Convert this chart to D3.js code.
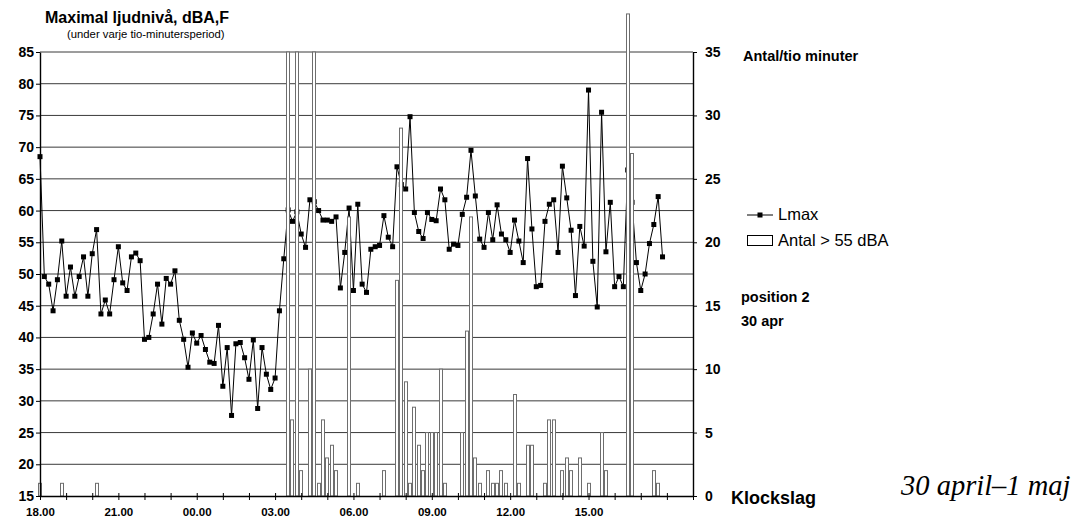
<!DOCTYPE html>
<html>
<head>
<meta charset="utf-8">
<script src="https://cdn.jsdelivr.net/npm/d3@7"></script>
<style>
  html, body { margin: 0; padding: 0; background: #fff; }
  svg { display: block; font-family: Arial, "Liberation Sans", sans-serif; }
</style>
</head>
<body>
<div id="chart"></div>
<script>
// Lmax per tio-minutersperiod, start 18.00 (30 apr)
const lmax = [
  68.5, 49.6, 48.4, 44.2, 49.1, 55.2, 46.5, 51.1, 46.5, 49.6, 52.7, 46.5,
  53.2, 57.0, 43.7, 45.9, 43.7, 49.1, 54.3, 48.6, 47.4, 52.7, 53.3, 52.1,
  39.7, 40.0, 43.7, 48.4, 42.1, 49.3, 48.4, 50.5, 42.7, 39.7, 35.3, 40.7,
  39.1, 40.3, 38.1, 36.1, 35.9, 41.9, 32.3, 38.4, 27.7, 39.0, 39.2, 36.8,
  33.4, 39.6, 28.8, 38.4, 34.2, 31.8, 33.6, 44.2, 52.4, 60.1, 58.3, 59.8,
  56.3, 54.2, 61.7, 61.4, 60.0, 58.5, 58.5, 58.3, 59.0, 47.8, 53.4, 60.4,
  47.4, 61.0, 48.4, 47.1, 53.9, 54.3, 54.5, 59.2, 55.8, 54.3, 66.9, 64.1,
  63.4, 74.8, 59.7, 56.7, 55.6, 59.7, 58.6, 58.4, 63.4, 61.7, 53.9, 54.7,
  54.5, 59.4, 62.1, 69.5, 62.3, 55.5, 54.2, 59.7, 55.4, 60.9, 56.3, 55.4,
  53.4, 58.5, 55.2, 51.8, 68.2, 57.1, 48.0, 48.2, 58.3, 61.0, 61.7, 53.4,
  67.0, 62.0, 56.9, 46.6, 57.5, 54.4, 79.0, 52.0, 44.8, 75.5, 53.5, 61.3,
  48.0, 49.6, 48.0, 66.4, 61.3, 51.8, 47.4, 50.0, 54.8, 57.8, 62.2, 52.7
];

// Antal > 55 dBA per tio-minutersperiod
const antal = [
  1, 0, 0, 0, 0, 1, 0, 0, 0, 0, 0, 0,
  0, 1, 0, 0, 0, 0, 0, 0, 0, 0, 0, 0,
  0, 0, 0, 0, 0, 0, 0, 0, 0, 0, 0, 0,
  0, 0, 0, 0, 0, 0, 0, 0, 0, 0, 0, 0,
  0, 0, 0, 0, 0, 0, 0, 0, 0, 35, 6, 35,
  2, 0, 10, 35, 1, 6, 3, 4, 2, 0, 0, 22,
  0, 1, 0, 0, 0, 0, 0, 2, 0, 0, 17, 29,
  9, 1, 7, 4, 2, 5, 5, 5, 10, 1, 0, 0,
  0, 5, 13, 22, 3, 1, 0, 2, 1, 1, 2, 1,
  0, 8, 1, 0, 4, 4, 0, 0, 1, 6, 6, 0,
  2, 3, 2, 0, 3, 0, 1, 0, 0, 5, 2, 0,
  0, 0, 0, 38, 27, 0, 0, 0, 0, 2, 1, 0
];

const hourLabels = ['18.00', '21.00', '00.00', '03.00', '06.00', '09.00', '12.00', '15.00'];
const leftTicks = [15, 20, 25, 30, 35, 40, 45, 50, 55, 60, 65, 70, 75, 80, 85];
const rightTicks = [0, 5, 10, 15, 20, 25, 30, 35];

const width = 1085;
const height = 519;

const svg = d3.select('#chart')
  .append('svg')
  .attr('width', width)
  .attr('height', height);

// 25 timmar = 150 perioder
const x = d3.scaleLinear().domain([0, 150]).range([40, 693]);
const yL = d3.scaleLinear().domain([15, 85]).range([496, 52]);
const yR = d3.scaleLinear().domain([0, 35]).range([496, 52]);

// Gridlines
svg.append('g')
  .selectAll('line')
  .data(leftTicks.filter(d => d > 15))
  .join('line')
  .attr('x1', x(0))
  .attr('x2', x(150))
  .attr('y1', d => yL(d))
  .attr('y2', d => yL(d))
  .attr('stroke', '#3a3a3a')
  .attr('stroke-width', 1);

// Lmax line
const line = d3.line()
  .x((d, i) => x(i))
  .y(d => yL(d));

svg.append('path')
  .datum(lmax)
  .attr('d', line)
  .attr('fill', 'none')
  .attr('stroke', '#000')
  .attr('stroke-width', 1);

svg.append('g')
  .selectAll('rect')
  .data(lmax)
  .join('rect')
  .attr('x', (d, i) => x(i) - 2.5)
  .attr('y', d => yL(d) - 2.5)
  .attr('width', 5)
  .attr('height', 5)
  .attr('fill', '#000');

// Bars (drawn over the line, as in the original)
svg.append('g')
  .selectAll('rect')
  .data(antal.map((v, i) => ({ i, v })).filter(d => d.v > 0))
  .join('rect')
  .attr('x', d => Math.round(x(d.i)) - 1.5)
  .attr('y', d => yR(d.v))
  .attr('width', 3)
  .attr('height', d => yR(0) - yR(d.v))
  .attr('fill', '#fff')
  .attr('stroke', '#6e6e6e')
  .attr('stroke-width', 1);

// Axes
const axisLeft = svg.append('g')
  .attr('transform', `translate(${x(0)},0)`)
  .call(d3.axisLeft(yL).tickValues(leftTicks).tickSize(4).tickSizeOuter(0).tickPadding(2));

const axisRight = svg.append('g')
  .attr('transform', `translate(${x(150)},0)`)
  .call(d3.axisRight(yR).tickValues(rightTicks).tickSize(4).tickSizeOuter(0).tickPadding(8));

const axisBottom = svg.append('g')
  .attr('transform', `translate(0,${yL(15)})`)
  .call(d3.axisBottom(x)
    .tickValues(d3.range(0, 151, 6))
    .tickSizeOuter(0)
    .tickFormat(i => (i % 18 === 0 && hourLabels[i / 18]) ? hourLabels[i / 18] : ''));

[axisLeft, axisRight, axisBottom].forEach(a => {
  a.select('.domain').attr('stroke', '#000').attr('stroke-width', 1.4);
  a.selectAll('.tick line').attr('stroke', '#000');
  a.selectAll('text')
    .attr('fill', '#000')
    .attr('font-family', 'Arial, "Liberation Sans", sans-serif')
    .attr('font-weight', 'bold');
});

axisLeft.selectAll('text').attr('font-size', 14);
axisRight.selectAll('text').attr('font-size', 14);
axisBottom.selectAll('.tick line').attr('y1', -3).attr('y2', 4);
axisBottom.selectAll('text')
  .attr('font-size', 11.5)
  .attr('y', 20)
  .attr('dy', null);

// Titles and notes
svg.append('text')
  .attr('x', 45)
  .attr('y', 23)
  .attr('font-size', 16)
  .attr('font-weight', 'bold')
  .text('Maximal ljudnivå, dBA,F');

svg.append('text')
  .attr('x', 67)
  .attr('y', 38)
  .attr('font-size', 11.3)
  .text('(under varje tio-minutersperiod)');

svg.append('text')
  .attr('x', 743)
  .attr('y', 61)
  .attr('font-size', 14.5)
  .attr('font-weight', 'bold')
  .text('Antal/tio minuter');

svg.append('text')
  .attr('x', 741)
  .attr('y', 302)
  .attr('font-size', 14.5)
  .attr('font-weight', 'bold')
  .text('position 2');

svg.append('text')
  .attr('x', 741)
  .attr('y', 326)
  .attr('font-size', 14.5)
  .attr('font-weight', 'bold')
  .text('30 apr');

svg.append('text')
  .attr('x', 731)
  .attr('y', 504)
  .attr('font-size', 18)
  .attr('font-weight', 'bold')
  .text('Klockslag');

svg.append('text')
  .attr('x', 901)
  .attr('y', 495)
  .attr('font-size', 28.5)
  .attr('font-style', 'italic')
  .attr('font-family', '"Times New Roman", "Liberation Serif", serif')
  .text('30 april–1 maj');

// Legend
const legend = svg.append('g');

legend.append('line')
  .attr('x1', 747).attr('x2', 773)
  .attr('y1', 215).attr('y2', 215)
  .attr('stroke', '#000')
  .attr('stroke-width', 1);

legend.append('rect')
  .attr('x', 757.5).attr('y', 212.5)
  .attr('width', 5).attr('height', 5)
  .attr('fill', '#000');

legend.append('text')
  .attr('x', 778).attr('y', 220)
  .attr('font-size', 16.5)
  .text('Lmax');

legend.append('rect')
  .attr('x', 747.5).attr('y', 235.5)
  .attr('width', 25).attr('height', 10)
  .attr('fill', '#fff')
  .attr('stroke', '#000')
  .attr('stroke-width', 1);

legend.append('text')
  .attr('x', 778).attr('y', 246)
  .attr('font-size', 16.5)
  .text('Antal > 55 dBA');
</script>
</body>
</html>
